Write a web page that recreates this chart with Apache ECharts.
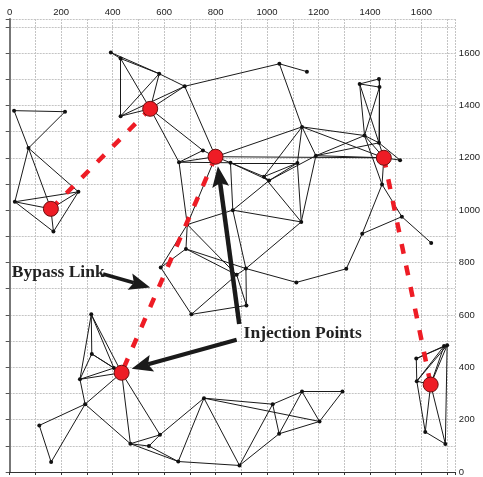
<!DOCTYPE html>
<html><head><meta charset="utf-8">
<script src="https://cdn.jsdelivr.net/npm/echarts@6/dist/echarts.min.js"></script>
<style>html,body{margin:0;padding:0;background:#fff}#c{width:483px;height:477px}</style>
</head><body><div id="c"></div>
<script>
// ---- data ----
const nodeNames = ['A0','A1','A2','A3','A4','A5','A6',
 'B0','B1','B2','B3','B4','B5','C0','C1','C2','D1','E1','E2',
 'F1','F2','F3','F4','F5','F6','G1','G2',
 'H0','H1','H2','H3','H4','H5','H6','H7','H8','H9','H10','I1',
 'J0','J1','J2','J3','J4','J5','J6','K1','K2',
 'L1','L2','L3','L4','L5','L6','L7',
 'M1','M2','M3','M4','M5','M6','M7',
 'N0','N1','N2','N3','N4','N5','N6','N7','N8','N9'];
const nodeX = [160,17,215,73,20,267,170,
 546,393,431,581,431,680,800,1048,1155,1136,751,658,
 858,988,1008,1118,1190,1133,867,690,
 1454,1360,1435,1437,1379,1435,1517,1447,1524,1370,1638,1308,
 1636,1580,1582,1688,1700,1615,1693,1293,1204,
 685,587,882,918,1114,706,920,
 755,1022,1136,1047,655,893,584,
 435,317,319,273,405,293,115,161,469,541];
const nodeY = [1005,1380,1376,1237,1032,1070,918,
 1387,1602,1579,1521,1359,1473,1204,1559,1529,1318,1228,1183,
 1181,1128,1113,1180,1208,955,1000,945,
 1200,1482,1501,1470,1285,1257,1191,1098,975,910,875,776,
 334,433,347,481,484,153,107,307,193,
 852,781,753,777,724,602,636,
 282,259,307,146,40,25,142,
 379,602,451,354,397,259,178,38,108,99];
const injectionNodes = ['A0','B0','C0','H0','J0','N0'];
const edges = [
 ['A1','A2'],['A1','A3'],['A2','A3'],['A3','A4'],['A3','A0'],['A3','A5'],['A4','A5'],['A4','A0'],['A4','A6'],['A0','A5'],['A5','A6'],['A0','A6'],
 ['B1','B2'],['B1','B3'],['B2','B3'],['B2','B4'],['B2','B0'],['B3','B4'],['B3','B0'],['B4','B0'],['B4','B5'],['B0','B5'],['B3','B5'],['B5','C1'],['C1','C2'],['C1','D1'],['B5','C0'],['B0','E1'],['B0','E2'],
 ['C0','E1'],['C0','E2'],['E1','E2'],['C0','F1'],['C0','D1'],['C0','H0'],['E2','F1'],['F1','F4'],['F1','F2'],['F1','F3'],['F1','G1'],['F2','F3'],['F3','F4'],['F2','F4'],['F3','F5'],['F2','D1'],['D1','F4'],['D1','F5'],['D1','H4'],['D1','H0'],['F4','F6'],['F5','F6'],['F5','H4'],['F5','H5'],['F5','H0'],['F2','F6'],['F3','G1'],['G1','G2'],['C0','G2'],['G2','L2'],['E2','G2'],['G1','F6'],
 ['L1','L2'],['L1','L3'],['L1','L4'],['L1','G2'],['L2','L6'],['L6','L7'],['L6','L3'],['L3','L4'],['L3','L7'],['L4','L7'],['L4','L5'],['L4','F6'],['L4','G1'],['L3','G2'],['L5','I1'],
 ['H1','H2'],['H1','H3'],['H2','H3'],['H1','H4'],['H1','H5'],['H2','H5'],['H3','H5'],['H3','H4'],['H4','H5'],['H4','H0'],['H5','H0'],['H5','H6'],['H0','H6'],['H0','H7'],['H4','H7'],['H7','H9'],['H7','H8'],['H8','H9'],['H8','H10'],['H9','I1'],
 ['J1','J3'],['J1','J4'],['J1','J2'],['J2','J3'],['J2','J4'],['J2','J5'],['J0','J3'],['J0','J4'],['J2','J0'],['J0','J5'],['J0','J6'],['J5','J6'],['J4','J6'],
 ['N1','N2'],['N1','N3'],['N1','N4'],['N1','N0'],['N2','N3'],['N2','N4'],['N2','N0'],['N3','N4'],['N3','N0'],['N3','N5'],['N5','N0'],['N5','N6'],['N5','N7'],['N6','N7'],['N5','N8'],['N0','N8'],['N0','M7'],
 ['N8','M7'],['N8','N9'],['N9','M7'],['N8','M5'],['N9','M5'],['M7','M1'],['M1','M5'],['M1','M6'],['M1','M2'],['M1','K2'],['M2','M4'],['M2','M6'],['M2','M3'],['M3','M4'],['M3','K2'],['M3','K1'],['K1','K2'],['M4','K2'],['M4','M6'],['M5','M6']
];
const bypassLinks = [['A0','B0'],['C0','N0'],['H0','J0']];
const axisMin = 0, axisMax = 1730, tickStep = 100, labelStep = 200;
// annotations (data coordinates)
const annotTexts = [
 {text:'Bypass Link', x:8, y:762},
 {text:'Injection Points', x:909, y:530}
];
const annotArrows = [
 {from:[363,756], to:[546,705], w:3.5},
 {from:[892,565], to:[809,1168], w:4.5},
 {from:[882,505], to:[474,394], w:4}
];

// ---- chart ----
const idx = {}; nodeNames.forEach((n,i)=>idx[n]=i);
const pt = n => [nodeX[idx[n]], nodeY[idx[n]]];
const chart = echarts.init(document.getElementById('c'), null, {renderer:'canvas'});
const gridLine = {show:true, lineStyle:{color:'#c4c4c4', width:1, type:[2,1]}};
const labelFmt = v => (v % labelStep === 0 && v <= 1600) ? String(v) : '';
chart.setOption({
 animation:false,
 backgroundColor:'#fff',
 grid:{left:9.7, right:23.7, top:19, bottom:3.7, containLabel:false},
 xAxis:{type:'value', position:'top', min:axisMin, max:axisMax, interval:tickStep,
  axisLine:{show:true, lineStyle:{color:'#333', width:1}},
  axisTick:{show:true, inside:true, length:3, lineStyle:{color:'#333'}},
  axisLabel:{formatter:labelFmt, fontSize:9.5, color:'#222', margin:2, fontFamily:'Liberation Sans, Arial, sans-serif'},
  splitLine:gridLine},
 yAxis:{type:'value', position:'right', min:axisMin, max:axisMax, interval:tickStep,
  axisLine:{show:true, lineStyle:{color:'#777', width:2}},
  axisTick:{show:true, inside:true, length:4, lineStyle:{color:'#555'}},
  axisLabel:{formatter:labelFmt, fontSize:9.5, color:'#222', margin:4, fontFamily:'Liberation Sans, Arial, sans-serif'},
  splitLine:gridLine},
 series:[
  {type:'lines', coordinateSystem:'cartesian2d', silent:true, z:3,
   lineStyle:{color:'#1a1a1a', width:1, opacity:1},
   data:edges.map(e=>({coords:[pt(e[0]), pt(e[1])]}))},
  {type:'scatter', silent:true, z:4, symbolSize:4, itemStyle:{color:'#111', opacity:1},
   data:nodeNames.filter(n=>injectionNodes.indexOf(n)<0).map(pt)},
  {type:'lines', coordinateSystem:'cartesian2d', silent:true, z:5,
   lineStyle:{color:'#ee1c25', width:4.5, type:[10,12], opacity:1, cap:'butt'},
   data:bypassLinks.map(e=>({coords:[pt(e[0]), pt(e[1])]}))},
  {type:'scatter', silent:true, z:6, symbolSize:15,
   itemStyle:{color:'#ee1c25', borderColor:'#6b0f0f', borderWidth:1, opacity:1},
   data:injectionNodes.map(pt)}
 ]
});
// annotations
const g = [];
annotTexts.forEach(t=>{
 const p = chart.convertToPixel({gridIndex:0}, [t.x, t.y]);
 g.push({type:'text', x:p[0], y:p[1], z:20, style:{text:t.text, fill:'#222', font:'bold 17.5px "Liberation Serif", "Times New Roman", serif', textVerticalAlign:'middle', textAlign:'left'}});
});
annotArrows.forEach(a=>{
 const s = chart.convertToPixel({gridIndex:0}, a.from);
 const t = chart.convertToPixel({gridIndex:0}, a.to);
 const dx=t[0]-s[0], dy=t[1]-s[1], L=Math.hypot(dx,dy);
 const ux=dx/L, uy=dy/L, nx=-uy, ny=ux;
 const hl=21, hw=8.5;
 const bx=t[0]-ux*hl, by=t[1]-uy*hl;
 g.push({type:'line', z:20, shape:{x1:s[0], y1:s[1], x2:bx+ux*4, y2:by+uy*4}, style:{stroke:'#1a1a1a', lineWidth:a.w}});
 g.push({type:'polygon', z:21, shape:{points:[[t[0],t[1]],[bx+nx*hw,by+ny*hw],[bx+ux*4,by+uy*4],[bx-nx*hw,by-ny*hw]]}, style:{fill:'#1a1a1a'}});
});
chart.setOption({graphic:g});
</script></body></html>
